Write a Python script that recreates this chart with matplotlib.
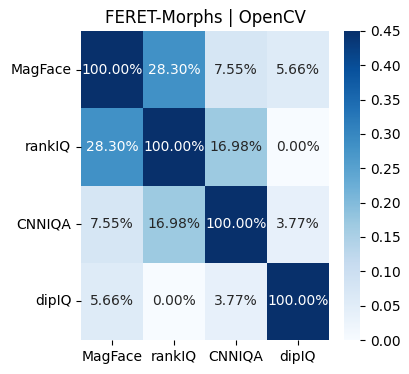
import matplotlib
matplotlib.use("Agg")
import matplotlib.pyplot as plt
import numpy as np
import seaborn as sns

# methods compared
methods = ["MagFace", "rankIQ", "CNNIQA", "dipIQ"]

# pairwise overlap values
magface = [1.0, 0.2830, 0.0755, 0.0566]
rankiq = [0.2830, 1.0, 0.1698, 0.0]
cnniqa = [0.0755, 0.1698, 1.0, 0.0377]
dipiq = [0.0566, 0.0, 0.0377, 1.0]

mat = np.array([magface, rankiq, cnniqa, dipiq])

W, H = 410, 374
fig = plt.figure(figsize=(W / 100, H / 100), dpi=100)
ax = fig.add_axes([81 / W, (H - 340) / H, 248 / W, 309 / H])
cax = fig.add_axes([344 / W, (H - 340) / H, 16 / W, 309 / H])

sns.heatmap(mat, ax=ax, cbar_ax=cax, cmap="Blues", vmin=0, vmax=0.45,
            annot=True, fmt=".2%", xticklabels=methods, yticklabels=methods,
            annot_kws={"fontsize": 10})
ax.set_title("FERET-Morphs | OpenCV", fontsize=12)
ax.tick_params(axis="y", rotation=0)
ax.tick_params(axis="x", rotation=0)

fig.savefig("out.png", dpi=100)
